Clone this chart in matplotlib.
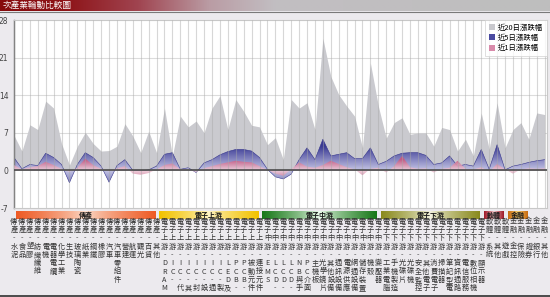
import numpy as np
import matplotlib
matplotlib.use("Agg")
import matplotlib.pyplot as plt
from matplotlib.colors import to_rgb
from matplotlib.patches import Patch
from matplotlib.transforms import blended_transform_factory

plt.rcParams['font.family'] = ['Noto Sans CJK TC', 'DejaVu Sans']

W, H = 550, 297

title = "次產業輪動比較圖"
series_names = ["近20日漲跌幅", "近5日漲跌幅", "近1日漲跌幅"]

groups = ["傳產", "電子上游", "電子中游", "電子下游", "軟體", "金融"]
trad_items = ["水泥", "食品", "塑膠", "紡織纖維", "電機", "電器電纜", "化學工業", "生技",
              "玻璃陶瓷", "紙業", "鋼鐵", "橡膠", "汽車", "汽車零組件", "營建", "航運",
              "觀光", "百貨", "其他"]
up_items = ["DRAM", "IC-", "IC-代工", "IC-其他", "IC-封測", "IC-設計", "IC-通路",
            "IC-製造", "LED及光元件", "PCB-材料", "PCB-製造", "被動元件", "連接元件"]
mid_items = ["EMS", "LCD-面板", "LCD-背光", "LCD-零組件", "NB與手機零組件", "PC介面卡",
             "主機板", "光學鏡片", "其他設備", "通訊設備", "電源供應器", "網通設備",
             "儲存裝置", "機殼", "變壓器"]
down_items = ["工業電腦", "手機製造", "光碟片", "光碟機", "安全監控", "其他電子",
              "消費電子", "掃描器", "筆記型電腦", "資訊通路", "電信服務", "數位相機", "顯示器"]
soft_items = ["系統", "其他", "遊戲"]
fin_items = ["金控", "保險", "證券", "銀行", "其他"]
# how many columns each coloured group band covers in the widget
band_cols = [19, 13, 15, 13, 3, 3]

# percent change
chg20 = [6.5, 3.6, 8.5, 7.6, 12.9, 11.6, 5.0, 1.0, 4.5, 7.1, 5.0, 3.6, 3.7, 4.5, 8.7, 6.4, 3.3, 7.3, 3.3,
         11.6, 2.7, 10.1, 8.1, 9.2, 7.0, 11.6, 13.9, 7.6, 13.2, 11.0, 8.4, 8.1,
         4.8, 6.1, 2.0, 13.2, 11.6, 12.6, 7.6, 24.6, 17.5, 14.1, 12.0, 10.1, 4.2, 20.0, 12.0,
         6.0, 8.9, 9.8, 6.7, 7.0, 7.0, 4.5, 8.0, 7.6, 3.6, 5.8, 2.7, 10.7,
         3.9, 12.6, 4.2,
         7.6, 8.9, 5.8, 10.7, 10.4]
chg5 = [2.4, 0.3, 1.1, 0.9, 3.2, 2.4, 1.1, -2.3, 1.1, 3.3, 2.4, 0.8, -2.2, 0.9, 2.0, 0.0, -0.1, 0.1, 0.8,
        3.0, 3.3, 0.2, 0.5, -0.4, 1.4, 2.0, 2.9, 3.5, 3.9, 3.9, 3.6, 2.4,
        0.2, -1.2, -1.6, -0.7, 2.0, 4.2, 2.0, 5.8, 2.7, 3.0, 3.3, 2.2, 2.2, 4.2, 1.1,
        1.7, 2.7, 3.2, 3.3, 3.3, 2.8, 1.1, 1.4, 2.7, 0.8, 1.1, 0.8, 3.9,
        0.2, 4.8, 0.1,
        0.8, 1.1, 1.5, 1.8, 2.0]
chg1 = [1.0, 0.2, 0.6, 0.8, 1.6, 1.0, 0.3, -0.3, 0.5, 2.2, 1.0, 0.3, -0.2, 0.4, 0.8, -0.6, -0.8, -0.5, 0.2,
        1.0, 1.3, 0.2, 0.1, -0.3, 0.4, 0.8, 1.2, 1.5, 1.8, 1.6, 1.5, 0.8,
        0.1, -0.6, -1.0, 0.2, 1.5, 0.7, 0.5, 1.0, 1.8, 1.2, 0.6, 0.2, -0.9, 0.3, 0.5,
        -0.4, 0.8, 2.7, 0.6, 0.3, 0.4, -0.4, 0.3, 0.5, 1.8, 0.3, 0.2, 0.6,
        -0.2, 1.2, 0.2,
        -0.6, 0.2, 0.4, 0.3, 0.4]

group_items = [trad_items, up_items, mid_items, down_items, soft_items, fin_items]
labels = [g + "-" + it for g, items in zip(groups, group_items) for it in items]

band_edge = ["#EE5A24", "#F2C200", "#187818", "#8A8A1E", "#A01828", "#C86A10"]
band_mid = ["#FCE2D2", "#FFF6CC", "#F2FFF2", "#F6F6E4", "#F6DADA", "#F8D878"]


def px_y(py):
    return 1 - py / H


def grad_fill(ax, x, y, far, near, scale, z, alpha=1.0):
    poly = ax.fill_between(x, 0, y, facecolor='none', edgecolor='none', zorder=z)
    ys = np.linspace(-7, 28, 500)
    t = np.clip(np.abs(ys) / scale, 0, 1)[:, None]
    c = np.array(to_rgb(near)) * (1 - t) + np.array(to_rgb(far)) * t
    img = ax.imshow(c[:, None, :], extent=[x[0], x[-1], -7, 28], origin='lower',
                    aspect='auto', zorder=z, alpha=alpha, interpolation='bilinear')
    img.set_clip_path(poly.get_paths()[0], transform=ax.transData)


fig = plt.figure(figsize=(W / 100, H / 100), dpi=100, facecolor='#ECEAEE')

# title bar
tax = fig.add_axes([0, px_y(11), 1, 11 / H])
tx = np.linspace(0, 1, 300)
stops = [(0, "#860A0C"), (0.12, "#8E1418"), (0.25, "#A04450"), (0.38, "#BA9CA4"),
         (0.5, "#C2BEC2"), (1, "#BEBEBE")]
pos = [s[0] for s in stops]
cols = np.array([to_rgb(s[1]) for s in stops])
tc = np.stack([np.interp(tx, pos, cols[:, k]) for k in range(3)], axis=-1)
tax.imshow(tc[None, :, :], extent=[0, 1, 0, 1], aspect='auto')
tax.set_axis_off()
fig.text(3 / W, px_y(5.5), title, color='white', fontsize=6.2, va='center', ha='left')
fig.add_artist(plt.Line2D([0, 1], [px_y(11.5)] * 2, color='#7A7A7A', lw=0.8))

# main plot
x0, x1, ytop, ybot = 14, 547, 20, 208
ax = fig.add_axes([x0 / W, px_y(ybot), (x1 - x0) / W, (ybot - ytop) / H])
ax.set_facecolor('white')
n = len(labels)
x = np.arange(n)
step = 7.92
ax.set_xlim(0, (x1 - x0) / step)
ax.set_ylim(-7, 28)

for yv in [7, 14, 21]:
    ax.axhline(yv, color='#DCDCDC', lw=0.8, zorder=0)

ax.fill_between(x, 0, chg20, color='#CACACF', lw=0, zorder=1)
grad_fill(ax, x, np.array(chg5), '#3A3A94', '#C4C4E4', 4.5, 2)
grad_fill(ax, x, np.array(chg1), '#C8587F', '#EFCFDC', 2.0, 3, alpha=0.9)
ax.plot(x, chg5, color='#34348C', lw=0.4, zorder=2.5)

ax.vlines(x, -7, 28, color='#A8A8A8', lw=0.8, alpha=0.45, zorder=4)
ax.axhline(0, color='#4A4A4A', lw=1.2, zorder=5)

ax.set_yticks([-7, 0, 7, 14, 21, 28])
ax.set_yticklabels(["-7", "0", "7", "14", "21", "28"], fontsize=5.5, color='#444444',
                   family='DejaVu Sans')
ax.tick_params(axis='y', length=0, pad=4)
ax.set_xticks([])
for s in ['top', 'right', 'bottom']:
    ax.spines[s].set_color('#C8C8C8')
    ax.spines[s].set_linewidth(0.8)
ax.spines['left'].set_color('#666666')
ax.spines['left'].set_linewidth(1.0)

handles = [Patch(facecolor='#C8C8CD', edgecolor='none'),
           Patch(facecolor='#4A4AA0', edgecolor='none'),
           Patch(facecolor='#D88AAA', edgecolor='none')]
leg = ax.legend(handles, series_names, loc='upper right', bbox_to_anchor=(1, 1),
                fontsize=5.3, frameon=True, fancybox=False, borderaxespad=0,
                handlelength=0.9, handleheight=0.9, handletextpad=0.4,
                labelspacing=0.3, borderpad=0.5)
leg.get_frame().set_edgecolor('#D0D0D0')
leg.get_frame().set_linewidth(0.6)
leg.set_zorder(10)

# industry bands under the plot
bax = fig.add_axes([x0 / W, px_y(219.5), (x1 - x0) / W, 8.5 / H])
start = 0
t = np.linspace(0, 1, 200)
f = (np.abs(t - 0.5) * 2) ** 0.7
for g, items, nb, ec, mc in zip(groups, group_items, band_cols, band_edge, band_mid):
    end = start + nb - 1
    bx0 = max(start - 0.65, 0.25)
    bx1 = end - 0.15
    c = np.array(to_rgb(mc))[None, :] * (1 - f[:, None]) + np.array(to_rgb(ec))[None, :] * f[:, None]
    bax.imshow(c[None, :, :], extent=[bx0, bx1, 0, 1], aspect='auto')
    bax.text((bx0 + bx1) / 2, 0.5, g, ha='center', va='center', fontsize=5,
             color='#1A1A1A', weight='bold')
    start += len(items)
bax.set_xlim(ax.get_xlim())
bax.set_ylim(0, 1)
bax.set_axis_off()

# vertical category labels (the widget cuts them at its lower edge)
trans = blended_transform_factory(ax.transData, fig.transFigure)
for i, lab in enumerate(labels):
    for r, ch in enumerate(lab[:9]):
        fig.text(i, px_y(221.7 + 8.3 * r), ch, transform=trans, ha='center', va='center',
                 fontsize=5.2, color='#333333')

fig.add_artist(plt.Line2D([0, 1], [px_y(295.5)] * 2, color='#303030', lw=1.2))

fig.savefig("out.png", dpi=100, facecolor=fig.get_facecolor())
